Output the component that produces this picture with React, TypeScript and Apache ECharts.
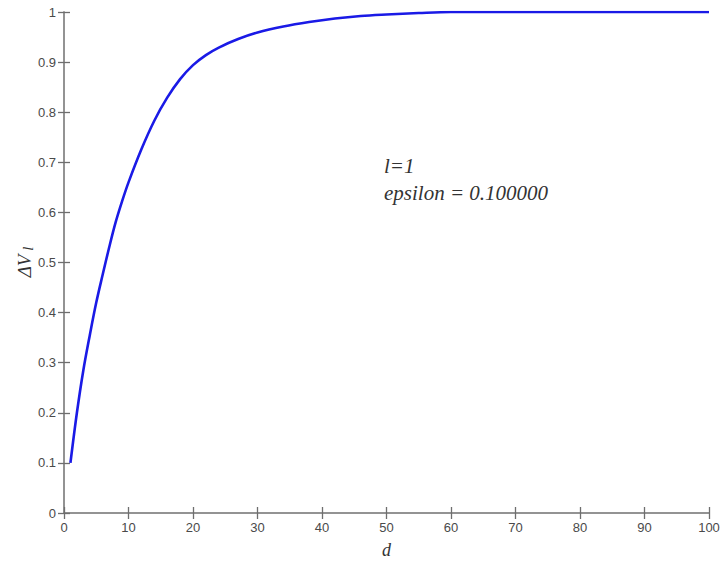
import React, { useEffect, useRef } from "react";
import * as echarts from "echarts";

const dValues = [1, 2, 3, 4, 5, 6, 7, 8, 9, 10, 12, 14, 16, 18, 20, 22, 24, 27, 30, 34, 38, 42, 46, 50, 55, 60, 70, 80, 90, 100];
const dvValues = [0.1, 0.2, 0.285, 0.355, 0.42, 0.476, 0.53, 0.58, 0.622, 0.66, 0.726, 0.783, 0.829, 0.866, 0.894, 0.914, 0.929, 0.946, 0.959, 0.971, 0.98, 0.987, 0.992, 0.995, 0.998, 1.0, 1.0, 1.0, 1.0, 1.0];
const xTicks = [0, 10, 20, 30, 40, 50, 60, 70, 80, 90, 100];
const yTicks = [0, 0.1, 0.2, 0.3, 0.4, 0.5, 0.6, 0.7, 0.8, 0.9, 1];
const annotationLines = ["l=1", "epsilon = 0.100000"];

export default function App() {
  const ref = useRef<HTMLDivElement>(null);
  useEffect(() => {
    if (!ref.current) return;
    const chart = echarts.init(ref.current, null, { renderer: "svg" });
    const axisColor = "#8c8c8c";
    const tickColor = "#6e6e6e";
    const labelStyle = { color: "#4a4a4a", fontFamily: "Liberation Sans, Arial, sans-serif", fontSize: 13 };
    const mkX = (pos: "top" | "bottom") => ({
      type: "value",
      position: pos,
      min: 0,
      max: 100,
      interval: 10,
      axisLine: { show: true, lineStyle: { color: axisColor, width: 1.5 } },
      axisTick: { show: true, inside: false, length: 6, lineStyle: { color: tickColor, width: 1.3 } },
      splitLine: { show: false },
    });
    const mkY = (pos: "left" | "right") => ({
      type: "value",
      position: pos,
      min: 0,
      max: 1,
      interval: 0.1,
      axisLine: { show: true, lineStyle: { color: axisColor, width: 1.5 } },
      axisTick: { show: true, inside: false, length: 6, lineStyle: { color: tickColor, width: 1.3 } },
      splitLine: { show: false },
    });
    chart.setOption({
      animation: false,
      backgroundColor: "#ffffff",
      grid: { left: 64, right: 14, top: 12, bottom: 45, containLabel: false },
      xAxis: [
        {
          ...mkX("bottom"),
          axisLabel: {
            ...labelStyle,
            margin: 8,
            formatter: (v: number) => (xTicks.includes(v) ? String(v) : ""),
          },
          name: "d",
          nameLocation: "middle",
          nameGap: 28,
          nameTextStyle: { fontFamily: "Liberation Serif, Times New Roman, serif", fontStyle: "italic", fontSize: 18, color: "#333" },
        },
        { ...mkX("top"), axisLabel: { show: false } },
      ],
      yAxis: [
        {
          ...mkY("left"),
          axisLabel: {
            ...labelStyle,
            margin: 8,
            formatter: (v: number) => {
              const t = yTicks.find((y) => Math.abs(y - v) < 1e-6);
              return t === undefined ? "" : String(t);
            },
          },
        },
        { ...mkY("right"), axisLabel: { show: false } },
      ],
      graphic: [
        {
          type: "text",
          x: 24,
          y: 262,
          rotation: Math.PI / 2,
          style: {
            text: "{a|ΔV}{s| l}",
            align: "center",
            verticalAlign: "middle",
            rich: {
              a: { fontFamily: "Liberation Serif, Times New Roman, serif", fontStyle: "italic", fontSize: 19, fill: "#333" },
              s: { fontFamily: "Liberation Serif, Times New Roman, serif", fontStyle: "italic", fontSize: 15, fill: "#333", verticalAlign: "bottom", padding: [8, 0, 0, 0] },
            },
          },
        },
        {
          type: "text",
          left: 384,
          top: 152,
          style: {
            text: annotationLines.join("\n"),
            lineHeight: 27,
            font: "italic 21px 'Liberation Serif', 'Times New Roman', serif",
            fill: "#333",
          },
        },
      ],
      series: [
        {
          type: "line",
          data: dValues.map((d, i) => [d, dvValues[i]]),
          showSymbol: false,
          smooth: 0.35,
          lineStyle: { color: "#1a1ae6", width: 2.6 },
          xAxisIndex: 0,
          yAxisIndex: 0,
        },
      ],
    });
    return () => chart.dispose();
  }, []);
  return <div ref={ref} style={{ position: "fixed", left: 0, top: 0, width: 723, height: 564 }} />;
}
